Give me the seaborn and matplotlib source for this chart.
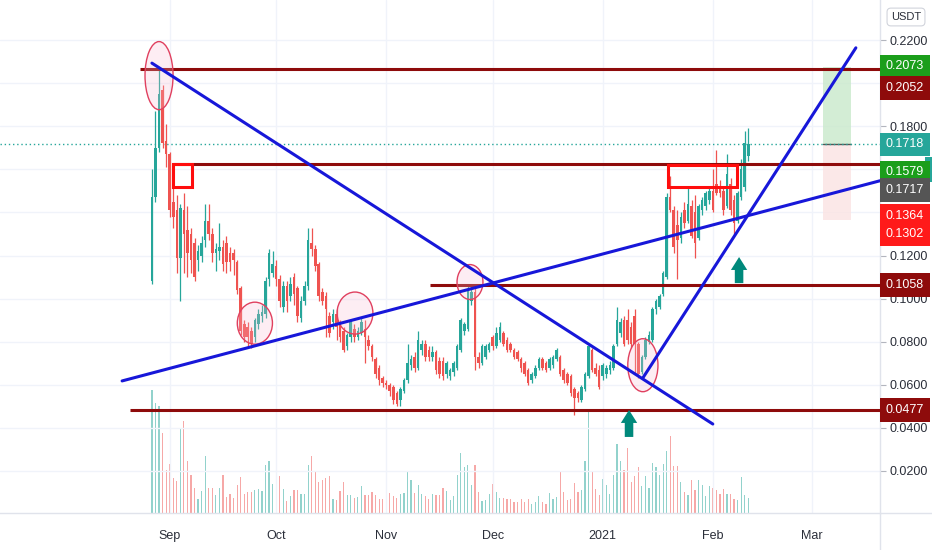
import numpy as np
import pandas as pd
import matplotlib
matplotlib.use('Agg')
import matplotlib.pyplot as plt
import matplotlib.transforms as mtransforms
from matplotlib.patches import Ellipse, Rectangle, FancyArrow
from matplotlib.lines import Line2D
from matplotlib.ticker import FormatStrFormatter
import seaborn as sns

# daily candles from 2020-08-27 (OHLC in USDT)
start_date = pd.Timestamp('2020-08-27')
opens = [.108, .147, .170, .197, .173, .167, .145, .141, .119, .141,
         .132, .130, .126, .118, .120, .127, .136, .130, .121, .122,
         .124, .126, .121, .121, .117, .105, .088, .087, .085, .082,
         .088, .092, .093, .109, .112, .115, .109, .096, .106, .101,
         .110, .105, .091, .099, .106, .126, .123, .116, .103, .101,
         .092, .089, .093, .089, .085, .078, .082, .086, .082, .084,
         .086, .081, .078, .072, .068, .063, .061, .060, .059, .056,
         .053, .057, .062, .069, .073, .068, .076, .079, .076, .073,
         .075, .071, .071, .065, .064, .066, .068, .076, .085, .086,
         .099, .103, .073, .070, .073, .076, .082, .078, .081, .084,
         .081, .079, .076, .075, .072, .070, .067, .062, .064, .068,
         .072, .070, .068, .069, .072, .073, .067, .065, .064, .058,
         .056, .053, .058, .064, .076, .068, .067, .064, .065, .067,
         .068, .079, .084, .090, .090, .087, .092, .079, .066, .073,
         .080, .081, .095, .096, .102, .110, .147, .141, .134, .128,
         .141, .136, .143, .140, .128, .141, .143, .146, .150, .153,
         .152, .150, .143, .153, .146, .136, .147, .152, .166]
highs = [.160, .187, .207, .199, .181, .168, .152, .148, .144, .149,
         .143, .133, .128, .125, .129, .144, .144, .133, .126, .135,
         .127, .129, .124, .123, .118, .106, .090, .089, .087, .091,
         .095, .097, .110, .123, .122, .118, .111, .108, .108, .110,
         .112, .106, .101, .108, .133, .133, .125, .117, .105, .103,
         .094, .095, .095, .090, .087, .084, .090, .088, .087, .091,
         .090, .083, .079, .073, .069, .064, .062, .061, .060, .057,
         .059, .063, .079, .074, .075, .085, .081, .081, .078, .078,
         .076, .073, .073, .071, .068, .071, .079, .091, .089, .107,
         .107, .105, .075, .079, .079, .080, .083, .087, .089, .085,
         .082, .080, .077, .076, .073, .071, .068, .066, .069, .073,
         .073, .071, .073, .074, .077, .074, .068, .066, .065, .059,
         .057, .060, .066, .079, .077, .070, .069, .070, .069, .071,
         .079, .096, .091, .092, .095, .089, .095, .080, .074, .082,
         .085, .096, .100, .102, .113, .149, .157, .143, .141, .140,
         .145, .152, .146, .148, .144, .147, .150, .152, .160, .169,
         .155, .152, .167, .156, .148, .150, .165, .178, .179]
lows = [.107, .145, .168, .170, .161, .138, .133, .112, .099, .112,
        .110, .112, .108, .113, .117, .124, .127, .117, .113, .118,
        .113, .112, .113, .111, .102, .083, .080, .078, .077, .080,
        .086, .089, .091, .106, .110, .106, .096, .094, .094, .099,
        .097, .089, .089, .097, .104, .120, .113, .099, .097, .082,
        .082, .086, .081, .080, .075, .076, .080, .080, .081, .083,
        .070, .076, .071, .063, .060, .059, .058, .055, .051, .050,
        .050, .056, .061, .067, .066, .067, .074, .071, .071, .071,
        .065, .063, .062, .063, .062, .064, .067, .075, .083, .085,
        .097, .067, .068, .069, .072, .075, .076, .077, .080, .078,
        .075, .075, .072, .071, .066, .064, .060, .061, .063, .067,
        .067, .066, .067, .068, .071, .064, .061, .060, .055, .046,
        .052, .052, .057, .063, .066, .064, .058, .062, .063, .065,
        .067, .078, .082, .078, .079, .077, .065, .063, .065, .072,
        .079, .080, .093, .095, .101, .109, .140, .121, .109, .126,
        .133, .135, .128, .119, .127, .139, .141, .144, .140, .148,
        .147, .139, .142, .139, .130, .135, .146, .150, .164]
closes = [.147, .170, .195, .172, .167, .141, .138, .119, .142, .130,
          .121, .118, .110, .122, .126, .136, .130, .121, .123, .124,
          .116, .117, .117, .118, .104, .085, .082, .082, .079, .090,
          .093, .094, .108, .121, .116, .109, .099, .106, .099, .107,
          .102, .092, .099, .106, .127, .123, .115, .101, .099, .095,
          .084, .093, .087, .082, .076, .083, .089, .082, .085, .089,
          .082, .078, .073, .065, .062, .061, .060, .057, .053, .051,
          .058, .062, .070, .072, .068, .081, .079, .073, .073, .075,
          .067, .065, .064, .070, .067, .070, .078, .090, .088, .104,
          .103, .073, .070, .078, .078, .079, .078, .084, .087, .079,
          .076, .076, .073, .072, .068, .065, .061, .065, .068, .072,
          .068, .067, .072, .073, .076, .065, .062, .061, .056, .054,
          .054, .059, .065, .078, .067, .065, .059, .069, .068, .069,
          .078, .090, .089, .079, .081, .079, .079, .065, .073, .081,
          .083, .095, .099, .101, .112, .147, .141, .124, .127, .138,
          .135, .144, .129, .126, .143, .146, .149, .150, .141, .149,
          .149, .141, .158, .141, .135, .149, .160, .172, .1718]
volumes = [370, 330, 320, 240, 130, 147, 105, 97, 255, 275,
           157, 115, 75, 43, 65, 170, 75, 75, 53, 75,
           115, 48, 58, 45, 83, 108, 58, 63, 63, 69,
           73, 65, 143, 157, 88, 55, 112, 73, 35, 50,
           70, 70, 58, 57, 145, 172, 123, 93, 100, 105,
           110, 43, 40, 65, 93, 55, 55, 45, 47, 82,
           53, 55, 63, 53, 43, 42, 35, 60, 50, 45,
           57, 60, 123, 100, 60, 85, 58, 50, 43, 58,
           55, 55, 75, 65, 40, 50, 113, 180, 137, 143,
           83, 143, 63, 37, 40, 57, 88, 63, 45, 45,
           43, 42, 32, 32, 43, 33, 43, 28, 32, 52,
           32, 27, 60, 43, 48, 122, 63, 40, 42, 90,
           63, 70, 155, 310, 123, 72, 55, 103, 83, 57,
           113, 207, 157, 130, 195, 93, 112, 137, 80, 112,
           75, 150, 137, 115, 147, 187, 232, 142, 140, 92,
           62, 55, 100, 70, 100, 83, 52, 80, 75, 70,
           58, 73, 57, 58, 42, 38, 108, 53, 45]

month_starts = ['2020-09-01', '2020-10-01', '2020-11-01', '2020-12-01',
                '2021-01-01', '2021-02-01', '2021-03-01']
month_labels = ['Sep', 'Oct', 'Nov', 'Dec', '2021', 'Feb', 'Mar']
price_ticks = [0.02, 0.04, 0.06, 0.08, 0.10, 0.12, 0.14, 0.16, 0.18, 0.20, 0.22]

# drawings: horizontal levels (start day, price), trend lines (day, price)
levels = [(-3.4, 0.2065), (5.9, 0.1625), (78.3, 0.1063), (-6.2, 0.0483)]
trend_lines = [((0.0, 0.2093), (158.0, 0.0418)),
               ((-8.4, 0.0618), (205.1, 0.1547)),
               ((138.3, 0.0632), (198.3, 0.2164))]
circles = [(2.0, 0.2035, 7.9, 0.0316), (29.0, 0.0886, 9.9, 0.0195),
           (57.2, 0.0933, 10.1, 0.0195), (89.6, 0.1077, 7.3, 0.0162),
           (138.3, 0.0691, 8.5, 0.0246)]
boxes = [(5.9, 0.1520, 5.4, 0.0107), (145.4, 0.1520, 19.4, 0.0102)]
arrows = [(134.4, 0.0358, 0.0483), (165.4, 0.1072, 0.1193)]
long_box = (189.0, 196.9, 0.2075, 0.1718, 0.1365)
last_price = 0.1718

# price scale tags: text, colour, displayed price
tags = [('0.2073', '#1b9e1b', 0.2079), ('0.2052', '#8e0b0b', 0.1977),
        ('0.1718', '#26a69a', 0.1717), ('0.1302', '#ff1a1a', 0.1300),
        ('0.1364', '#ff1a1a', 0.1383), ('0.1579', '#1b9e1b', 0.1587),
        ('0.1717', '#555555', 0.1504), ('0.1058', '#8e0b0b', 0.1063),
        ('0.0477', '#8e0b0b', 0.0483)]

sns.set_style('white')
plt.rcParams['font.family'] = ['Liberation Sans', 'DejaVu Sans']

up_col, dn_col = '#26a69a', '#ef5350'
dark_red, blue = '#8e0b0b', '#1717d9'

days = np.arange(len(closes))
o, h, l, c = map(np.array, (opens, highs, lows, closes))
up = c >= o
cols = np.where(up, up_col, dn_col)

fig = plt.figure(figsize=(9.32, 5.5), dpi=100)
ax = fig.add_axes([0, 37 / 550, 880 / 932, 513 / 550])
axv = ax.twinx()
ax.set_zorder(2)
ax.patch.set_visible(False)
axv.set_zorder(1)

# volume
axv.bar(days, volumes, width=0.34, color=cols, alpha=0.5, linewidth=0)
axv.set_ylim(0, 1539)
axv.axis('off')

# grid
for p in price_ticks:
    ax.axhline(p, color='#f0f3fa', lw=1, zorder=0)
month_days = [(pd.Timestamp(m) - start_date).days for m in month_starts]
for d in month_days:
    ax.axvline(d, color='#f0f3fa', lw=1, zorder=0)

# candles
ax.vlines(days, l, h, colors=cols, lw=0.9, zorder=3)
body_lo = np.minimum(o, c)
body_h = np.maximum(np.abs(c - o), 0.0006)
ax.bar(days, body_h, bottom=body_lo, width=0.72, color=cols, linewidth=0, zorder=3)

xmax = 205.1
ax.set_xlim(-42.8, xmax)
ax.set_ylim(0.0005, 0.2386)

# long position box
x0, x1, tp, entry, sl = long_box
ax.add_patch(Rectangle((x0, entry), x1 - x0, tp - entry, fc='#c9e9cb', ec='none', alpha=0.8, zorder=1))
ax.add_patch(Rectangle((x0, sl), x1 - x0, entry - sl, fc='#fbe3e3', ec='none', alpha=0.8, zorder=1))
ax.plot([x0, x1], [entry, entry], color='#555555', lw=1, zorder=2)

# current price dotted line
ax.axhline(last_price, color=up_col, lw=1, ls=(0, (1, 2)), zorder=2)

# levels
for d0, p in levels:
    ax.plot([d0, xmax], [p, p], color=dark_red, lw=2.2, zorder=4, solid_capstyle='butt')

# trend lines
for (d0, p0), (d1, p1) in trend_lines:
    sns.lineplot(x=[d0, d1], y=[p0, p1], ax=ax, color=blue, lw=2.2, zorder=5)

for cx, cy, w, hh in circles:
    ax.add_patch(Ellipse((cx, cy), w, hh, fc='#f8bbd0', alpha=0.25, ec='none', zorder=4))
    ax.add_patch(Ellipse((cx, cy), w, hh, fc='none', ec='#e0405f', lw=1, zorder=4))

for bx, by, bw, bh in boxes:
    ax.add_patch(Rectangle((bx, by), bw, bh, fc='none', ec='#ff0d0d', lw=2.2, zorder=6))

for ad, p0, p1 in arrows:
    ax.add_patch(FancyArrow(ad, p0, 0, p1 - p0, width=2.4, head_width=4.6, head_length=0.006,
                            length_includes_head=True, color='#00897b', lw=0, zorder=6))

# axes styling
ax.yaxis.tick_right()
ax.set_yticks(price_ticks)
ax.yaxis.set_major_formatter(FormatStrFormatter('%.4f'))
ax.tick_params(axis='y', length=4, color='#b2b5be', labelsize=9, labelcolor='#2a2e39', pad=3)
ax.set_xticks(month_days)
ax.set_xticklabels(month_labels)
ax.tick_params(axis='x', length=0, labelsize=9, labelcolor='#2a2e39', pad=12)
for s in ['left', 'top']:
    ax.spines[s].set_visible(False)
for s in ['right', 'bottom']:
    ax.spines[s].set_color('#e0e3eb')
    ax.spines[s].set_linewidth(1)
ax.set_xlabel('')
ax.set_ylabel('')

trans = mtransforms.blended_transform_factory(ax.transAxes, ax.transData)
for txt, col, p in tags:
    ax.text(1 + 6 / 880, p, txt, transform=trans, color='white', fontsize=9, va='center', ha='left',
            bbox=dict(boxstyle='square,pad=0.45', fc=col, ec='none'), clip_on=False, zorder=10)

fig.text(906 / 932, 1 - 17 / 550, 'USDT', fontsize=8, color='#2a2e39', ha='center', va='center',
         bbox=dict(boxstyle='round,pad=0.35', fc='white', ec='#d1d4dc', lw=0.8))
fig.patches.append(Rectangle((925 / 932, 1 - 182 / 550), 7 / 932, 25 / 550,
                             transform=fig.transFigure, fc='#26a69a', ec='none', zorder=0))
fig.lines.append(Line2D([880 / 932, 880 / 932], [0, 37 / 550], transform=fig.transFigure, color='#e0e3eb', lw=1))
fig.lines.append(Line2D([880 / 932, 1], [37 / 550, 37 / 550], transform=fig.transFigure, color='#e0e3eb', lw=1))

fig.savefig('out.png', dpi=100)
